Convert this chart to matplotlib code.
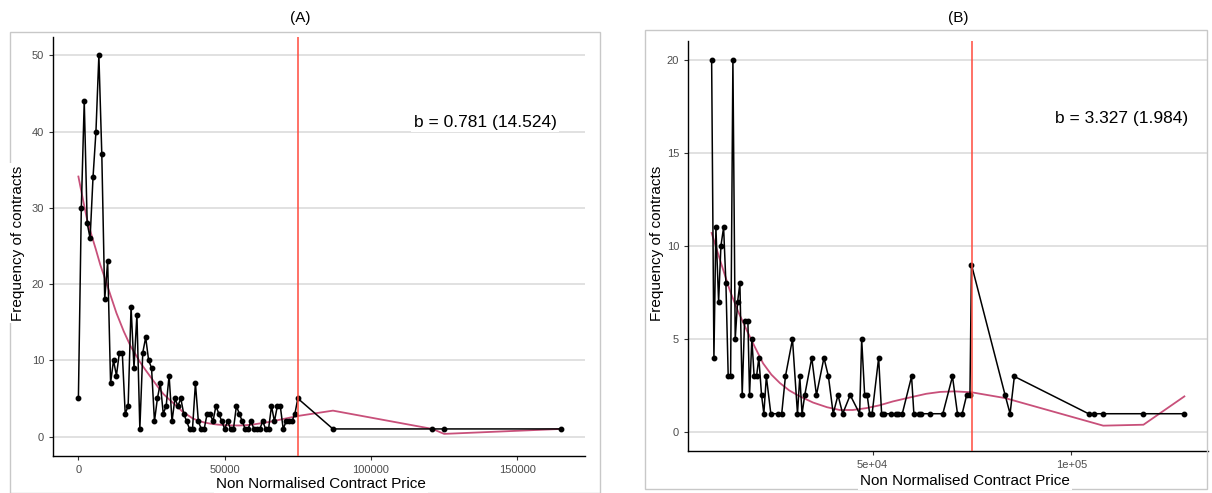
import numpy as np
import matplotlib
matplotlib.use("Agg")
import matplotlib.pyplot as plt
from matplotlib.patches import Rectangle

plt.rcParams['font.family'] = ['Liberation Sans', 'DejaVu Sans']

# ---- panel A data (price bins, count of contracts) ----
price_a = [0, 1000, 2000, 3000, 4000, 5000, 6000, 7000, 8000, 9000,
           10000, 11000, 12000, 13000, 14000, 15000, 16000, 17000, 18000, 19000,
           20000, 21000, 22000, 23000, 24000, 25000, 26000, 27000, 28000, 29000,
           30000, 31000, 32000, 33000, 34000, 35000, 36000, 37000, 38000, 39000,
           40000, 41000, 42000, 43000, 44000, 45000, 46000, 47000, 48000, 49000,
           50000, 51000, 52000, 53000, 54000, 55000, 56000, 57000, 58000, 59000,
           60000, 61000, 62000, 63000, 64000, 65000, 66000, 67000, 68000, 69000,
           70000, 71000, 72000, 73000, 74000, 75000, 87000, 121000, 125000, 165000]
freq_a = [5, 30, 44, 28, 26, 34, 40, 50, 37, 18,
          23, 7, 10, 8, 11, 11, 3, 4, 17, 9,
          16, 1, 11, 13, 10, 9, 2, 5, 7, 3,
          4, 8, 2, 5, 4, 5, 3, 2, 1, 1,
          7, 2, 1, 1, 3, 3, 2, 4, 3, 2,
          1, 2, 1, 1, 4, 3, 2, 1, 1, 2,
          1, 1, 1, 2, 1, 1, 4, 2, 4, 4,
          1, 2, 2, 2, 3, 5, 1, 1, 1, 1]
# fitted curve
fit_x_a = [0, 1500, 3000, 4500, 6000, 7500, 9300, 11000, 13000, 15500,
           17900, 19500, 21000, 23000, 24700, 27000, 29000, 31500, 33900, 35500,
           37000, 39000, 40800, 43000, 45000, 47500, 50000, 52500, 55000, 57500,
           60000, 62500, 65000, 67500, 70000, 72500, 75000,
           87000, 121000, 125000, 165000]
fit_y_a = [34.1, 31.2, 28.4, 26.4, 24.5, 22.5, 20.5, 18.5, 16.2, 13.8,
           11.8, 10.8, 9.8, 8.7, 7.8, 6.6, 5.6, 4.7, 3.9, 3.3,
           2.9, 2.4, 2.1, 1.85, 1.7, 1.57, 1.5, 1.46, 1.45, 1.5,
           1.6, 1.75, 1.9, 2.1, 2.3, 2.5, 2.7,
           3.4, 1.0, 0.35, 1.0]

# ---- panel B data ----
price_b = [9465, 10040, 10540, 11220, 11800, 12480, 13060, 13640, 14240, 14820,
           15400, 16000, 16580, 17160, 17760, 18590, 19010, 19590, 20170, 20770,
           21350, 22030, 22610, 23240, 24370, 26110, 27110, 28040, 29820, 31080,
           31660, 32230, 32910, 34670, 35850, 37740, 38870, 40070, 41280, 42460,
           44350, 46730, 47240, 47990, 48620, 49250, 49870, 51510, 52260, 52810,
           54520, 55780, 56360, 57460, 59800, 60380, 61640, 62240, 64400, 67670,
           70100, 71360, 72540, 73670, 74500, 74880, 83350, 84600, 85680, 104360,
           105610, 108050, 118180, 128480]
freq_b = [20, 4, 11, 7, 10, 11, 8, 3, 3, 20,
          5, 7, 8, 2, 6, 6, 2, 5, 3, 3,
          4, 2, 1, 3, 1, 1, 1, 3, 5, 1,
          3, 1, 2, 4, 2, 4, 3, 1, 2, 1,
          2, 1, 5, 2, 2, 1, 1, 4, 1, 1,
          1, 1, 1, 1, 3, 1, 1, 1, 1, 1,
          3, 1, 1, 2, 2, 9, 2, 1, 3, 1,
          1, 1, 1, 1]
fit_x_b = [9465, 11800, 14070, 16100, 18260, 20300, 22430, 24500, 26630, 29000,
           31500, 35000, 38500, 41700, 45000, 48400, 51700, 55100, 59300, 63500,
           67000, 70600, 74900, 83350, 108050, 118180, 128480]
fit_y_b = [10.7, 9.1, 7.6, 6.5, 5.5, 4.6, 3.7, 3.1, 2.65, 2.25,
           1.95, 1.6, 1.35, 1.2, 1.2, 1.3, 1.45, 1.66, 1.87, 2.07,
           2.17, 2.2, 2.15, 1.84, 0.36, 0.41, 1.93]

W, H = 1212, 493
fig = plt.figure(figsize=(W / 100, H / 100), dpi=100)


def px_axes(l, t, r, b):
    return fig.add_axes([l / W, 1 - b / H, (r - l) / W, (b - t) / H])


def style(ax):
    for s in ['top', 'right']:
        ax.spines[s].set_visible(False)
    for s in ['left', 'bottom']:
        ax.spines[s].set_linewidth(1.0)
        ax.spines[s].set_color('black')
    ax.yaxis.grid(True, color='#dcdcdc', linewidth=1.2)
    ax.set_axisbelow(True)
    ax.tick_params(length=3, width=0.8, colors='#333333', labelsize=8,
                   labelcolor='#4d4d4d')


# frames around each panel
fig.patches.append(Rectangle((10 / W, 1 - 493 / H), 590 / W, 461 / H,
                             transform=fig.transFigure, fill=False,
                             edgecolor='#c8c8c8', linewidth=1.0))
fig.patches.append(Rectangle((645 / W, 1 - 489 / H), 562 / W, 459 / H,
                             transform=fig.transFigure, fill=False,
                             edgecolor='#c8c8c8', linewidth=1.0))

# panel A
axA = px_axes(53, 37, 585, 456)
style(axA)
axA.plot(fit_x_a, fit_y_a, color='#c8507a', linewidth=1.3, zorder=2)
axA.plot(price_a, freq_a, color='black', linewidth=1.1, marker='o',
         markersize=3.2, zorder=3)
axA.axvline(75000, color='#ff4a3d', linewidth=1.1, zorder=4)
axA.set_xlim(-8680, 173150)
axA.set_ylim(-2.55, 52.4)
axA.set_xticks([0, 50000, 100000, 150000])
axA.set_xticklabels(['0', '50000', '100000', '150000'])
axA.set_yticks([0, 10, 20, 30, 40, 50])
axA.text(485 / W, 1 - 122 / H, 'b = 0.781 (14.524)', transform=fig.transFigure,
         ha='center', va='center', fontsize=12.5,
         bbox=dict(facecolor='white', edgecolor='none', pad=2), zorder=10)

# panel B
axB = px_axes(688, 41, 1208, 451)
style(axB)
axB.plot(fit_x_b, fit_y_b, color='#c8507a', linewidth=1.3, zorder=2)
axB.plot(price_b, freq_b, color='black', linewidth=1.1, marker='o',
         markersize=3.2, zorder=3)
axB.axvline(75000, color='#ff4a3d', linewidth=1.1, zorder=4)
axB.set_xlim(3515, 134430)
axB.set_ylim(-1, 21)
axB.set_xticks([50000, 100000])
axB.set_xticklabels(['5e+04', '1e+05'])
axB.set_yticks([0, 5, 10, 15, 20])
axB.text(1122 / W, 1 - 118 / H, 'b = 3.327 (1.984)', transform=fig.transFigure,
         ha='center', va='center', fontsize=12.5,
         bbox=dict(facecolor='white', edgecolor='none', pad=2), zorder=10)

# titles and axis labels
lab = dict(fontsize=11, bbox=dict(facecolor='white', edgecolor='none', pad=1.5))
fig.text(300 / W, 1 - 18 / H, '(A)', ha='center', va='center', fontsize=11)
fig.text(958 / W, 1 - 18 / H, '(B)', ha='center', va='center', fontsize=11)
fig.text(18 / W, 1 - 243 / H, 'Frequency of contracts', rotation=90,
         ha='center', va='center', **lab)
fig.text(657 / W, 1 - 243 / H, 'Frequency of contracts', rotation=90,
         ha='center', va='center', **lab)
fig.text(321 / W, 1 - 484 / H, 'Non Normalised Contract Price',
         ha='center', va='center', **lab)
fig.text(965 / W, 1 - 481 / H, 'Non Normalised Contract Price',
         ha='center', va='center', **lab)

fig.savefig('out.png', dpi=100)
